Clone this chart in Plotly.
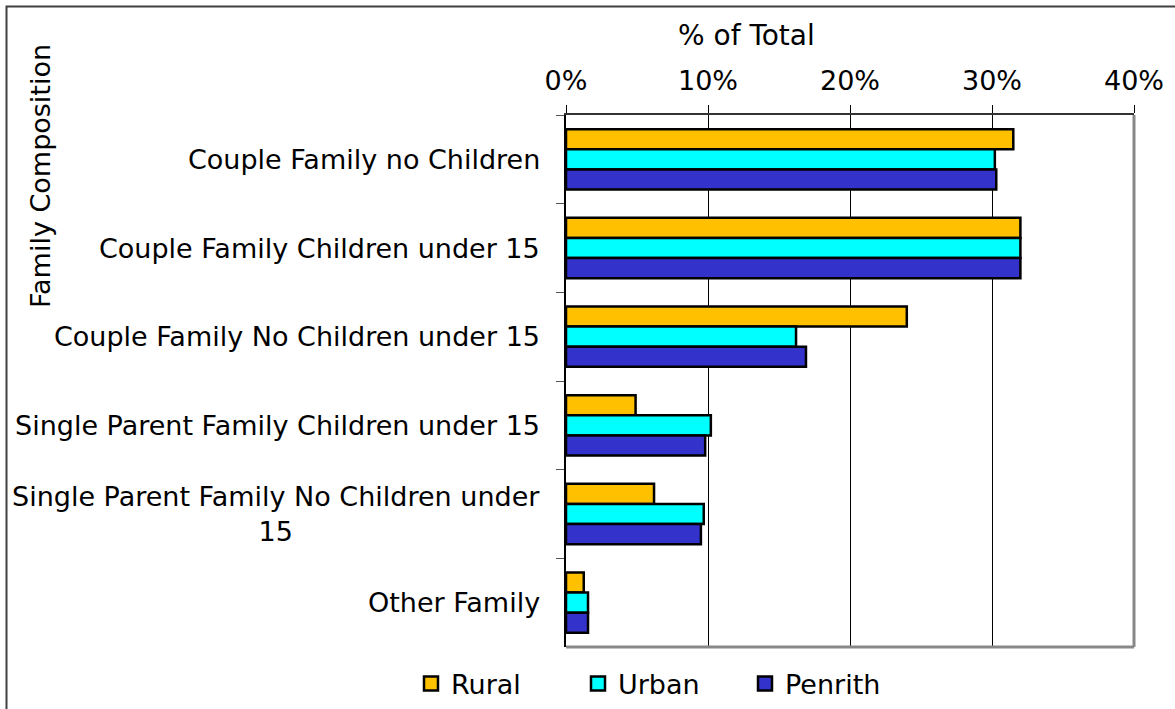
import plotly.graph_objects as go

categories = [
    "Couple Family no Children",
    "Couple Family Children under 15",
    "Couple Family No Children under 15",
    "Single Parent Family Children under 15",
    "Single Parent Family No Children under<br>15",
    "Other Family",
]
rural = [31.5, 32.0, 24.0, 4.9, 6.2, 1.25]
urban = [30.2, 32.0, 16.2, 10.2, 9.7, 1.55]
penrith = [30.3, 32.0, 16.9, 9.8, 9.5, 1.55]

series = [
    ("Rural", rural, "#FFC000"),
    ("Urban", urban, "#00FFFF"),
    ("Penrith", penrith, "#3333CC"),
]

FONT = "DejaVu Sans"
FS = 27
W, H = 1175, 709
L, R, T, B = 566, 41, 115, 62
pw, ph = W - L - R, H - T - B

fig = go.Figure()
for name, vals, color in series:
    fig.add_trace(go.Bar(
        y=categories, x=vals, name=name, orientation="h",
        legendgroup=name, showlegend=False,
        marker=dict(color=color, line=dict(color="black", width=2.5)),
    ))
# legend keys: square swatches with a black outline
for name, vals, color in series:
    fig.add_trace(go.Scatter(
        x=[None], y=[None], mode="markers", name=name, legendgroup=name,
        marker=dict(symbol="square", size=14, color=color,
                    line=dict(color="black", width=2.5)),
    ))

fig.update_layout(
    width=W, height=H,
    margin=dict(l=L, r=R, t=T, b=B, autoexpand=False),
    paper_bgcolor="white", plot_bgcolor="white",
    font=dict(family=FONT, size=FS, color="black"),
    barmode="group", bargap=0.32, bargroupgap=0,
    showlegend=True,
    legend=dict(
        orientation="h",
        xref="container", x=411 / W, xanchor="left",
        yref="container", y=(H - 684) / H, yanchor="middle",
        entrywidth=122, entrywidthmode="pixels",
        font=dict(family=FONT, size=FS),
        itemwidth=30,
    ),
)

fig.update_xaxes(
    side="top", range=[0, 40], dtick=10, ticksuffix="%",
    showgrid=True, gridcolor="black", gridwidth=1,
    ticks="outside", ticklen=8, tickcolor="black",
    showline=True, linecolor="#333333", linewidth=1.5,
    zeroline=False, ticklabelstandoff=4,
    tickfont=dict(size=FS),
)
fig.update_yaxes(
    autorange="reversed", tickson="boundaries",
    ticks="outside", ticklen=8, tickcolor="#555555",
    showticklabels=False,
    showline=True, linecolor="black", linewidth=1.5,
    showgrid=False,
)

# Category labels, right aligned next to the axis, lines centred
annotations = []
for cat in categories:
    annotations.append(dict(
        x=0, xref="paper", y=cat, yref="y", text=cat,
        xanchor="right", yanchor="middle", xshift=-24, align="center",
        showarrow=False, font=dict(family=FONT, size=FS),
    ))
annotations.append(dict(
    x=(746 - L) / pw, xref="paper", y=(H - B - 35) / ph, yref="paper",
    text="% of Total", showarrow=False, xanchor="center", yanchor="middle",
    font=dict(family=FONT, size=28),
))
annotations.append(dict(
    x=(40 - L) / pw, xref="paper", y=(H - B - 176) / ph, yref="paper",
    text="Family Composition", textangle=-90, showarrow=False,
    xanchor="center", yanchor="middle",
    font=dict(family=FONT, size=FS),
))
fig.update_layout(annotations=annotations)

def px_x(p):
    return (p - L) / pw

def px_y(p):
    return (H - B - p) / ph

shapes = [
    # plot area right and bottom edges
    dict(type="line", xref="paper", yref="paper", x0=1, x1=1, y0=0, y1=1,
         line=dict(color="#888888", width=3)),
    dict(type="line", xref="paper", yref="paper", x0=0, x1=1, y0=0, y1=0,
         line=dict(color="#888888", width=3)),
    # outer chart frame
    dict(type="rect", xref="paper", yref="paper",
         x0=px_x(6.5), x1=px_x(1185), y0=px_y(6.5), y1=px_y(720),
         line=dict(color="#404040", width=2)),
]
fig.update_layout(shapes=shapes)

fig.write_html("out.html")
